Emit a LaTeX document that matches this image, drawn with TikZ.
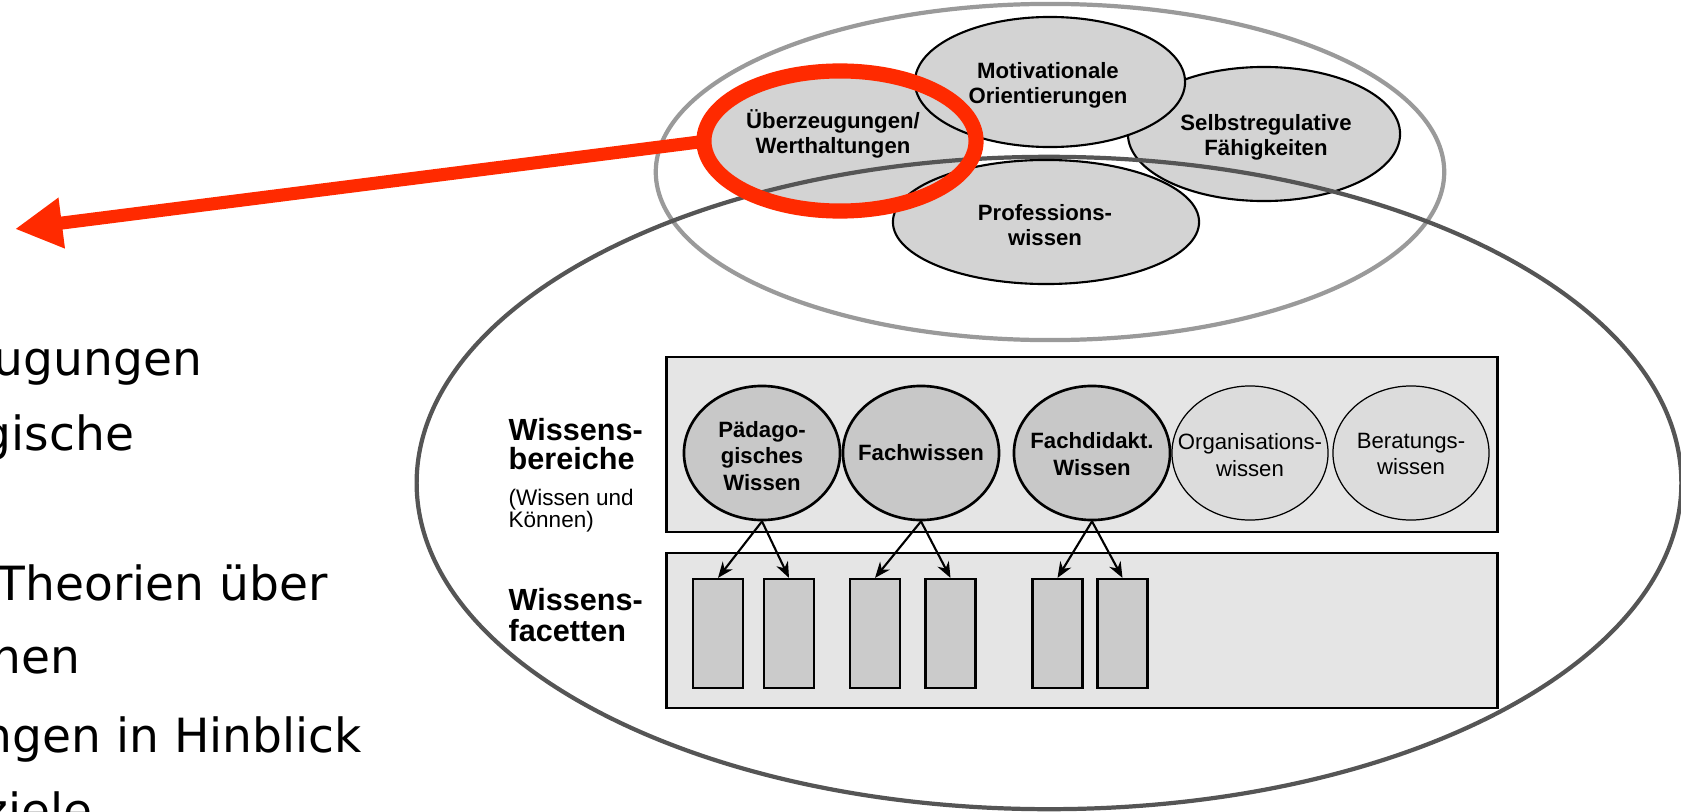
\documentclass[tikz,border=0pt]{standalone}
\usepackage{fontspec}
\setmainfont{Liberation Sans}
\newfontfamily\slidefont{DejaVu Sans}
\usetikzlibrary{shapes.geometric,arrows.meta}
\definecolor{ringred}{HTML}{FF2A00}
\definecolor{ellfill}{HTML}{D3D3D3}
\definecolor{panelfill}{HTML}{E5E5E5}
\definecolor{darkfill}{HTML}{C8C8C8}
\definecolor{lightfill}{HTML}{DCDCDC}
\definecolor{facetfill}{HTML}{CBCBCB}
\definecolor{outergray}{HTML}{9A9A9A}
\definecolor{darkline}{HTML}{555555}

\begin{document}
\begin{tikzpicture}[x=0.01cm,y=-0.01cm,
    topell/.style={shape=ellipse,draw=black,line width=0.6pt,fill=ellfill,inner sep=0pt},
    elltext/.style={align=center,inner sep=0pt,font=\bfseries\fontsize{6.3}{7.1}\selectfont},
    panel/.style={shape=rectangle,draw=black,line width=0.75pt,fill=panelfill,minimum width=8.3cm,inner sep=0pt},
    area/.style={shape=ellipse,draw=black,line width=0.75pt,fill=darkfill,minimum width=1.56cm,minimum height=1.34cm,inner sep=0pt},
    lightarea/.style={area,line width=0.35pt,fill=lightfill},
    areatext/.style={align=center,inner sep=0pt,font=\bfseries\fontsize{6.3}{7.6}\selectfont},
    lightareatext/.style={align=center,inner sep=0pt,font=\fontsize{6.3}{7.6}\selectfont},
    facet/.style={shape=rectangle,draw=black,line width=0.6pt,fill=facetfill,minimum width=0.5cm,minimum height=1.09cm,inner sep=0pt},
    facetarrow/.style={->,line width=0.6pt},
    sidetext/.style={anchor=base west,inner sep=0pt,font=\slidefont\fontsize{13.4}{16}\selectfont},
    >={Stealth[length=4.5pt,width=3.6pt]}]
    \useasboundingbox (0,0) rectangle (1681,812);
    \clip (0,0) rectangle (1681,812);

    \draw[outergray,line width=1.2pt] (1050,172) ellipse [x radius=3.94cm, y radius=1.68cm];

    \node[topell,minimum width=2.68cm,minimum height=1.36cm] (ueber) at (840,141) {};
    \node[topell,minimum width=2.72cm,minimum height=1.34cm] (selbst) at (1264,134) {};
    \node[topell,minimum width=2.7cm,minimum height=1.3cm] (motiv) at (1050,82) {};
    \draw[darkline,line width=1.2pt] (1049,483) ellipse [x radius=6.32cm, y radius=3.26cm];
    \node[topell,minimum width=3.06cm,minimum height=1.24cm] (prof) at (1046,222) {};

    \node[elltext] (uebertext) at (833,134) {Überzeugungen/\\Werthaltungen};
    \node[elltext] (motivtext) at (1048,85) {Motivationale\\Orientierungen};
    \node[elltext] (selbsttext) at (1266,137) {Selbstregulative\\Fähigkeiten};
    \node[elltext] (proftext) at (1045,225) {Professions-\\wissen};

    \node[shape=ellipse,draw=ringred,line width=4.3pt,minimum width=2.72cm,minimum height=1.4cm] (ring) at (840,141) {};
    \coordinate (tip) at (15,229);
    \draw[ringred,line width=3.7pt,-{Triangle[length=13.4pt,width=13.6pt]}] ([xshift=3pt]ring.west) -- (tip);

    \node[panel,minimum height=1.75cm] (areas) at (1082,444.5) {};
    \node[panel,minimum height=1.55cm] (facets) at (1082,630.5) {};

    \node[area] (paed) at (762,453) {};
    \node[area] (fach) at (921,453) {};
    \node[area] (didakt) at (1092,453) {};
    \node[lightarea] (orga) at (1250,453) {};
    \node[lightarea] (berat) at (1411,453) {};

    \node[areatext] (paedtext) at (762,456) {Pädago-\\gisches\\Wissen};
    \node[areatext] (fachtext) at (921,453) {Fachwissen};
    \node[areatext] (didakttext) at (1092,454) {Fachdidakt.\\Wissen};
    \node[lightareatext] (orgatext) at (1250,455) {Organisations-\\wissen};
    \node[lightareatext] (berattext) at (1411,454) {Beratungs-\\wissen};

    \node[facet] (f1) at (718,633.5) {};
    \node[facet] (f2) at (789,633.5) {};
    \node[facet] (f3) at (875,633.5) {};
    \node[facet] (f4) at (950.5,633.5) {};
    \node[facet] (f5) at (1057.5,633.5) {};
    \node[facet] (f6) at (1122.5,633.5) {};

    \path [facetarrow] (paed.south) edge (f1.north);
    \path [facetarrow] (paed.south) edge (f2.north);
    \path [facetarrow] (fach.south) edge (f3.north);
    \path [facetarrow] (fach.south) edge (f4.north);
    \path [facetarrow] (didakt.south) edge (f5.north);
    \path [facetarrow] (didakt.south) edge (f6.north);

    \node[anchor=north west,inner sep=0pt,align=left,font=\bfseries\fontsize{8.7}{8.2}\selectfont] (bereiche) at (508,418) {Wissens-\\bereiche};
    \node[anchor=north west,inner sep=0pt,align=left,font=\fontsize{6.4}{6.5}\selectfont] (bereichesub) at (508,488) {(Wissen und\\Können)};
    \node[anchor=north west,inner sep=0pt,align=left,font=\bfseries\fontsize{8.7}{8.8}\selectfont] (facetten) at (508,588) {Wissens-\\facetten};

    \node[sidetext] (line1) at (-7,375) {ugungen};
    \node[sidetext] (line2) at (-19,450) {gische};
    \node[sidetext] (line3) at (-4,600) {Theorien über};
    \node[sidetext] (line4) at (-9,673) {nen};
    \node[sidetext] (line5) at (-18,752) {ngen in Hinblick};
    \node[sidetext] (line6) at (-17,827) {ziele};
\end{tikzpicture}
\end{document}
